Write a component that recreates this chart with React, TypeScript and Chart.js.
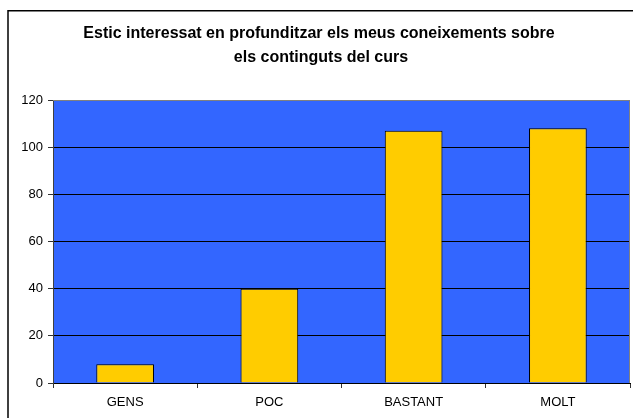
import React, { useEffect, useRef } from "react";
import { Chart, registerables } from "chart.js";

Chart.register(...registerables);

const titleLines = [
  "Estic interessat en profunditzar els meus coneixements sobre",
  "els continguts del curs",
];
const categories = ["GENS", "POC", "BASTANT", "MOLT"];
const values = [8, 40, 107, 108];
const yMin = 0;
const yMax = 120;
const yStep = 20;

const decorPlugin = {
  id: "decor",
  beforeDraw(chart: any) {
    const { ctx, chartArea } = chart;
    ctx.save();
    ctx.fillStyle = "#ffffff";
    ctx.fillRect(0, 0, chart.width, chart.height);
    // outer chart border
    ctx.strokeStyle = "#000000";
    ctx.lineWidth = 1.5;
    ctx.strokeRect(8, 10.75, chart.width + 20, chart.height + 20);
    // plot area background
    ctx.fillStyle = "#3366FF";
    ctx.fillRect(
      chartArea.left,
      chartArea.top,
      chartArea.right - chartArea.left,
      chartArea.bottom - chartArea.top
    );
    // title
    ctx.fillStyle = "#000000";
    ctx.font = "bold 16px 'Liberation Sans', Arial, sans-serif";
    ctx.textAlign = "center";
    ctx.textBaseline = "alphabetic";
    ctx.fillText(titleLines[0], 319, 38);
    ctx.fillText(titleLines[1], 321, 62);
    ctx.restore();
  },
  beforeDatasetsDraw(chart: any) {
    const { ctx, chartArea } = chart;
    ctx.save();
    ctx.strokeStyle = "#808080";
    ctx.lineWidth = 1;
    ctx.beginPath();
    ctx.moveTo(chartArea.left, chartArea.top + 0.5);
    ctx.lineTo(chartArea.right - 0.5, chartArea.top + 0.5);
    ctx.lineTo(chartArea.right - 0.5, chartArea.bottom);
    ctx.stroke();
    ctx.restore();
  },
};

export default function App() {
  const ref = useRef<HTMLCanvasElement | null>(null);

  useEffect(() => {
    if (!ref.current) return;
    const chart = new Chart(ref.current, {
      type: "bar",
      data: {
        labels: categories,
        datasets: [
          {
            data: values,
            backgroundColor: "#FFCC00",
            borderColor: "#000000",
            borderWidth: 1,
            barPercentage: 0.4,
            categoryPercentage: 1,
          },
        ],
      },
      options: {
        responsive: false,
        animation: false,
        layout: { padding: { top: 100, right: 3, bottom: 0, left: 0 } },
        plugins: {
          legend: { display: false },
          title: { display: false },
          tooltip: { enabled: false },
        },
        scales: {
          x: {
            afterFit: (s: any) => {
              s.height = 35;
            },
            grid: {
              offset: true,
              drawOnChartArea: false,
              drawTicks: true,
              tickLength: 5,
              color: "#333333",
            },
            border: { display: true, color: "#000000", width: 1 },
            ticks: {
              color: "#000000",
              padding: 7,
              font: { family: "'Liberation Sans', Arial, sans-serif", size: 13 },
            },
          },
          y: {
            min: yMin,
            max: yMax,
            afterFit: (s: any) => {
              s.width = 53;
            },
            grid: {
              color: (c: any) =>
                c.tick && c.tick.value === yMax ? "rgba(0,0,0,0)" : "#000000",
              tickColor: "#333333",
              drawTicks: true,
              tickLength: 5,
            },
            border: { display: true, color: "#404040", width: 1 },
            ticks: {
              stepSize: yStep,
              color: "#000000",
              padding: 5,
              font: { family: "'Liberation Sans', Arial, sans-serif", size: 13 },
            },
          },
        },
      },
      plugins: [decorPlugin],
    });
    return () => chart.destroy();
  }, []);

  return (
    <div style={{ position: "absolute", left: 0, top: 0, width: 633, height: 418 }}>
      <canvas ref={ref} width={633} height={418} style={{ display: "block" }} />
    </div>
  );
}
